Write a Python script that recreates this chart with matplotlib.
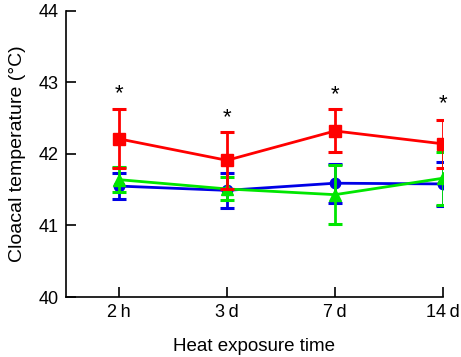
import matplotlib
matplotlib.use("Agg")
import matplotlib.pyplot as plt
import numpy as np

plt.rcParams['font.family'] = ['Liberation Sans', 'DejaVu Sans']

categories = ['2\u2009h', '3\u2009d', '7\u2009d', '14\u2009d']
blue_mean = [41.55, 41.49, 41.59, 41.58]
blue_err = [0.18, 0.24, 0.27, 0.31]
green_mean = [41.64, 41.51, 41.43, 41.66]
green_err = [0.17, 0.16, 0.41, 0.37]
red_mean = [42.21, 41.91, 42.32, 42.14]
red_err = [0.41, 0.40, 0.30, 0.34]
star_y = [42.84, 42.51, 42.83, 42.70]

fig = plt.figure(figsize=(4.61, 3.57), dpi=100)
ax = fig.add_axes([0.143, 0.168, 0.818, 0.802])
x = np.arange(len(categories))

common = dict(lw=2, elinewidth=2, capsize=5, capthick=2.2)
ax.errorbar(x, blue_mean, yerr=blue_err, color='#0000e6', marker='o', ms=7.5, zorder=2, **common)
ax.errorbar(x, green_mean, yerr=green_err, color='#00e600', marker='^', ms=8, zorder=3, **common)
ax.errorbar(x, red_mean, yerr=red_err, color='#ff0000', marker='s', ms=8, zorder=4, **common)
for xi, yi in zip(x, star_y):
    ax.text(xi, yi, '*', ha='center', va='center', fontsize=16)

ax.set_xlim(-0.49, 3.0)
ax.set_ylim(40, 44)
ax.set_yticks([40, 41, 42, 43, 44])
ax.set_xticks(x)
ax.set_xticklabels(categories)
ax.tick_params(direction='in', length=7, width=1.2, labelsize=13)
ax.tick_params(axis='y', pad=5)
ax.tick_params(axis='x', pad=5)
for s in ['top', 'right']:
    ax.spines[s].set_visible(False)
for s in ['left', 'bottom']:
    ax.spines[s].set_linewidth(1.2)
ax.set_xlabel('Heat exposure time', fontsize=13.5, labelpad=12)
ax.set_ylabel('Cloacal temperature (°C)', fontsize=14, labelpad=9)
fig.savefig('out.png', dpi=100)
